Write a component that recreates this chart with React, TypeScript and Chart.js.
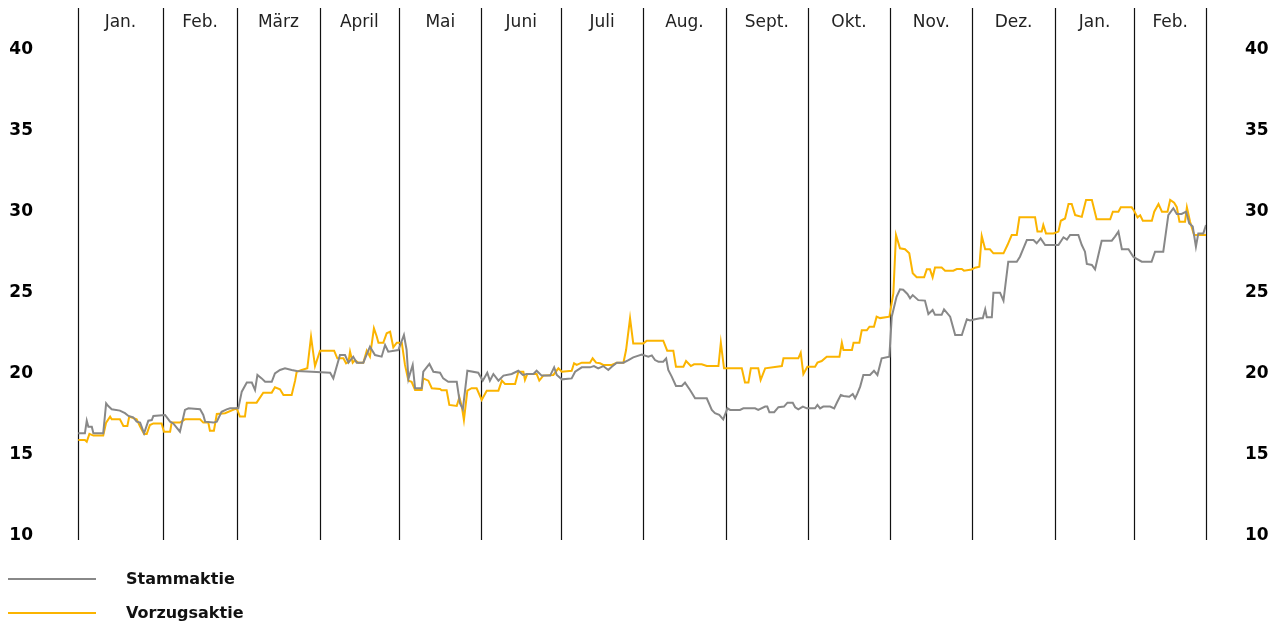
import React, { useEffect, useRef } from "react";
import { Chart, registerables } from "chart.js";

Chart.register(...registerables);

const monthLabels = ["Jan.", "Feb.", "März", "April", "Mai", "Juni", "Juli", "Aug.", "Sept.", "Okt.", "Nov.", "Dez.", "Jan.", "Feb."];
const monthStarts = [0, 32, 60, 91, 121, 152, 182, 213, 244, 275, 306, 337, 368, 398, 425];
const yTicks = [10, 15, 20, 25, 30, 35, 40];
const seriesNames = ["Stammaktie", "Vorzugsaktie"];

const stammDays = [0.1, 2.6, 3.3, 3.9, 5.2, 5.8, 9.5, 10.6, 11.4, 12.7, 15.8, 17.7, 19.0, 20.8, 22.1, 23.4, 24.9, 26.5, 27.8, 28.4, 32.8, 34.7, 35.9, 38.4, 40.3, 41.6, 46.0, 47.2, 47.9, 51.0, 52.3, 54.1, 56.0, 57.3, 60.4, 61.7, 63.6, 65.5, 66.7, 67.6, 69.2, 70.5, 73.0, 74.2, 76.1, 78.0, 80.5, 82.4, 88.1, 95.0, 96.2, 98.7, 100.6, 101.9, 103.7, 105.0, 107.5, 110.0, 111.9, 114.4, 115.7, 116.9, 120.7, 122.8, 123.8, 124.5, 126.1, 127.0, 129.5, 130.1, 132.4, 133.9, 136.4, 137.6, 139.5, 142.7, 143.9, 145.0, 146.7, 150.8, 152.5, 154.2, 155.2, 156.5, 158.4, 160.3, 163.4, 165.9, 167.6, 169.1, 171.6, 172.8, 174.7, 177.9, 179.4, 180.4, 182.3, 186.0, 187.3, 189.8, 192.9, 194.4, 196.0, 197.9, 199.8, 201.1, 203.0, 205.5, 207.4, 209.2, 212.4, 214.9, 216.2, 217.4, 218.7, 220.5, 221.6, 222.4, 223.7, 225.3, 227.5, 228.7, 230.6, 232.5, 236.9, 238.8, 240.0, 241.6, 243.1, 244.7, 245.7, 249.4, 250.7, 255.1, 256.3, 258.9, 259.7, 260.5, 262.3, 263.9, 266.0, 267.3, 269.3, 270.2, 271.4, 273.1, 274.6, 277.7, 278.6, 279.6, 280.8, 283.4, 284.9, 286.1, 287.4, 288.4, 290.6, 291.9, 292.8, 293.6, 294.7, 295.9, 298.4, 299.9, 301.2, 302.8, 305.7, 306.6, 308.4, 309.7, 310.9, 312.5, 313.5, 314.5, 316.6, 319.1, 320.4, 322.0, 322.9, 325.4, 326.3, 328.6, 330.5, 333.0, 334.9, 336.1, 338.0, 339.9, 340.9, 341.8, 342.4, 344.3, 344.9, 347.4, 348.7, 350.5, 353.7, 354.9, 356.2, 357.5, 360.0, 361.2, 362.7, 364.4, 369.4, 371.3, 372.6, 373.8, 376.9, 378.2, 379.4, 380.1, 382.0, 383.2, 385.7, 389.5, 390.7, 392.0, 393.3, 395.8, 397.6, 398.6, 400.8, 404.5, 405.8, 408.9, 410.8, 412.7, 414.0, 415.8, 417.5, 418.7, 420.0, 421.2, 422.1, 424.0, 425.0];
const stammValues = [16.34, 16.34, 17.12, 16.75, 16.75, 16.34, 16.34, 18.19, 18.02, 17.82, 17.74, 17.58, 17.41, 17.33, 17.06, 17.0, 16.34, 17.12, 17.16, 17.41, 17.47, 17.06, 16.95, 16.44, 17.78, 17.88, 17.82, 17.47, 17.06, 17.0, 17.06, 17.67, 17.82, 17.88, 17.88, 18.91, 19.47, 19.47, 19.01, 19.94, 19.73, 19.52, 19.52, 20.04, 20.25, 20.35, 20.25, 20.19, 20.14, 20.08, 19.73, 21.17, 21.17, 20.7, 21.07, 20.7, 20.7, 21.69, 21.17, 21.07, 21.79, 21.38, 21.48, 22.41, 21.5, 19.7, 20.56, 19.12, 19.12, 20.14, 20.62, 20.14, 20.08, 19.73, 19.52, 19.52, 18.19, 17.82, 20.2, 20.08, 19.59, 20.08, 19.59, 20.0, 19.59, 19.9, 20.0, 20.2, 19.94, 20.0, 20.0, 20.2, 19.9, 19.9, 20.41, 19.94, 19.67, 19.73, 20.14, 20.41, 20.41, 20.49, 20.35, 20.49, 20.25, 20.45, 20.7, 20.7, 20.86, 21.03, 21.2, 21.07, 21.15, 20.86, 20.76, 20.76, 20.96, 20.25, 19.84, 19.26, 19.26, 19.47, 19.01, 18.5, 18.5, 17.78, 17.58, 17.48, 17.2, 17.88, 17.78, 17.78, 17.88, 17.88, 17.78, 17.99, 17.99, 17.64, 17.64, 17.95, 17.99, 18.23, 18.23, 17.95, 17.82, 17.99, 17.88, 17.88, 18.09, 17.88, 17.99, 17.99, 17.88, 18.29, 18.7, 18.64, 18.6, 18.77, 18.5, 18.77, 19.22, 19.94, 19.94, 20.2, 19.94, 20.97, 21.07, 23.54, 24.77, 25.23, 25.2, 24.94, 24.67, 24.87, 24.56, 24.53, 23.7, 23.95, 23.65, 23.65, 23.99, 23.54, 22.41, 22.41, 23.38, 23.31, 23.38, 23.44, 23.44, 23.99, 23.5, 23.5, 25.02, 25.02, 24.53, 26.93, 26.93, 27.24, 27.76, 28.27, 28.27, 28.07, 28.37, 27.96, 27.96, 28.44, 28.3, 28.58, 28.58, 27.96, 27.55, 26.79, 26.73, 26.46, 28.23, 28.23, 28.48, 28.79, 27.7, 27.7, 27.24, 27.14, 26.93, 26.93, 27.55, 27.55, 29.81, 30.23, 29.88, 29.88, 30.02, 29.3, 29.1, 27.86, 28.68, 28.68, 29.2];

const vorzugDays = [0.1, 2.6, 3.3, 4.3, 5.8, 9.5, 10.6, 12.1, 12.7, 15.8, 17.1, 18.6, 19.3, 22.1, 23.4, 24.9, 25.9, 27.1, 28.4, 31.5, 32.4, 34.7, 35.3, 38.4, 40.3, 46.0, 47.2, 49.1, 49.7, 51.2, 52.3, 55.4, 59.8, 61.0, 62.9, 63.6, 67.3, 69.8, 73.0, 74.2, 76.1, 77.4, 80.5, 81.8, 82.4, 84.3, 86.4, 87.8, 89.3, 91.2, 96.5, 97.7, 100.0, 101.0, 101.9, 102.5, 103.5, 104.4, 105.6, 107.5, 108.8, 110.0, 111.5, 112.5, 113.2, 115.0, 116.3, 117.6, 118.8, 120.1, 122.0, 123.2, 124.5, 125.7, 127.0, 129.5, 130.1, 132.0, 133.3, 136.4, 137.0, 138.9, 139.9, 142.7, 143.7, 144.6, 145.4, 146.7, 148.3, 150.2, 152.1, 154.0, 158.4, 159.7, 160.9, 164.7, 165.9, 167.8, 168.4, 169.3, 172.8, 173.8, 175.3, 179.1, 181.0, 182.3, 186.0, 186.9, 187.9, 189.8, 192.9, 193.9, 195.2, 196.7, 197.9, 201.1, 203.0, 205.5, 206.5, 208.0, 209.2, 213.0, 214.3, 220.5, 222.0, 224.3, 225.3, 228.1, 229.1, 230.9, 232.1, 235.0, 236.9, 241.3, 242.2, 243.4, 250.1, 251.3, 252.6, 253.5, 256.3, 257.2, 258.9, 265.2, 265.8, 271.4, 272.3, 273.3, 274.8, 277.7, 278.6, 280.2, 282.1, 286.9, 287.8, 288.4, 291.6, 292.2, 294.4, 295.3, 297.2, 298.2, 299.9, 300.9, 302.2, 305.7, 307.2, 308.2, 309.7, 311.6, 313.2, 314.5, 316.0, 318.8, 319.8, 321.0, 322.0, 322.9, 325.4, 326.7, 329.8, 331.1, 333.0, 333.8, 336.7, 338.0, 339.6, 340.5, 341.8, 343.6, 344.9, 348.7, 350.2, 351.8, 353.7, 354.7, 360.6, 361.5, 363.1, 363.7, 364.7, 367.5, 369.4, 370.3, 371.9, 373.2, 374.4, 375.7, 378.2, 379.8, 382.0, 383.8, 388.9, 389.9, 392.0, 392.9, 397.0, 397.9, 399.2, 400.2, 401.2, 404.6, 405.5, 407.1, 408.4, 410.5, 411.5, 413.0, 414.0, 415.0, 417.1, 417.8, 419.0, 420.5, 425.0];
const vorzugValues = [15.93, 15.93, 15.82, 16.3, 16.2, 16.2, 17.0, 17.37, 17.2, 17.2, 16.79, 16.79, 17.37, 17.2, 16.75, 16.3, 16.3, 16.85, 16.95, 16.95, 16.44, 16.44, 17.0, 17.0, 17.2, 17.2, 17.0, 17.0, 16.5, 16.5, 17.53, 17.58, 17.88, 17.37, 17.37, 18.23, 18.23, 18.85, 18.85, 19.18, 19.06, 18.7, 18.7, 19.59, 20.14, 20.25, 20.35, 22.3, 20.49, 21.44, 21.44, 20.97, 20.97, 20.66, 20.75, 21.38, 20.7, 20.86, 20.7, 20.7, 21.44, 21.07, 22.82, 22.35, 21.93, 21.93, 22.51, 22.61, 21.65, 21.93, 21.93, 20.56, 19.59, 19.52, 19.01, 19.01, 19.73, 19.59, 19.12, 19.07, 18.99, 18.99, 18.09, 18.03, 18.56, 18.0, 17.16, 18.97, 19.12, 19.12, 18.4, 18.97, 18.97, 19.59, 19.38, 19.38, 20.14, 20.14, 19.63, 20.0, 20.0, 19.59, 19.9, 19.94, 20.35, 20.14, 20.2, 20.66, 20.56, 20.7, 20.7, 20.97, 20.7, 20.66, 20.56, 20.56, 20.7, 20.7, 21.48, 23.44, 21.89, 21.89, 22.06, 22.06, 21.44, 21.44, 20.45, 20.45, 20.8, 20.49, 20.6, 20.6, 20.49, 20.49, 21.93, 20.35, 20.35, 19.47, 19.47, 20.35, 20.35, 19.63, 20.35, 20.49, 20.97, 20.97, 21.31, 20.0, 20.45, 20.45, 20.7, 20.8, 21.07, 21.07, 21.93, 21.48, 21.48, 21.93, 21.93, 22.7, 22.7, 22.92, 22.92, 23.54, 23.45, 23.54, 24.98, 28.58, 27.76, 27.7, 27.45, 26.22, 25.97, 25.97, 26.46, 26.46, 25.97, 26.58, 26.58, 26.38, 26.38, 26.48, 26.48, 26.38, 26.45, 26.56, 26.62, 28.52, 27.7, 27.7, 27.45, 27.45, 27.96, 28.58, 28.58, 29.67, 29.67, 28.79, 28.79, 29.2, 28.68, 28.68, 28.79, 29.46, 29.6, 30.49, 30.49, 29.81, 29.7, 30.74, 30.74, 29.55, 29.55, 30.02, 30.02, 30.29, 30.29, 30.08, 29.67, 29.8, 29.46, 29.46, 30.02, 30.49, 30.02, 30.02, 30.74, 30.57, 30.3, 29.4, 29.4, 30.29, 29.4, 28.58, 28.58];

const GRAY = "#888888";
const ORANGE = "#fbb400";
const seriesColors = [GRAY, ORANGE];

const toPoints = (xs: number[], ys: number[]) => xs.map((x, i) => ({ x, y: ys[i] }));

export default function App() {
  const canvasRef = useRef<HTMLCanvasElement>(null);

  useEffect(() => {
    document.body.style.margin = "0";
    const canvas = canvasRef.current;
    if (!canvas) return;

    const monthPlugin = {
      id: "monthGrid",
      beforeDatasetsDraw(chart: any) {
        const { ctx, chartArea, scales } = chart;
        const xs = scales.x;
        ctx.save();
        ctx.strokeStyle = "#111";
        ctx.lineWidth = 1.2;
        monthStarts.forEach((d) => {
          const px = Math.round(xs.getPixelForValue(d)) + 0.5;
          ctx.beginPath();
          ctx.moveTo(px, chartArea.top - 42);
          ctx.lineTo(px, chartArea.bottom + 4);
          ctx.stroke();
        });
        ctx.fillStyle = "#222";
        ctx.font = '17px "DejaVu Sans"';
        ctx.textAlign = "center";
        ctx.textBaseline = "middle";
        monthLabels.forEach((m, i) => {
          const a = xs.getPixelForValue(monthStarts[i]);
          const b = xs.getPixelForValue(monthStarts[i + 1]);
          ctx.fillText(m, (a + b) / 2, chartArea.top - 27);
        });
        ctx.restore();
      },
    };

    const tickFont = { family: '"DejaVu Sans", sans-serif', size: 17, weight: "bold" as const };
    const setTicks = (s: any) => {
      s.ticks = yTicks.map((v) => ({ value: v }));
    };
    const fitWidth = (w: number) => (s: any) => {
      s.width = w;
      s.paddingTop = 0;
      s.paddingBottom = 0;
    };

    const chart = new Chart(canvas, {
      type: "line",
      data: {
        datasets: [
          {
            label: seriesNames[0],
            data: toPoints(stammDays, stammValues),
            borderColor: GRAY,
            backgroundColor: GRAY,
            borderWidth: 2,
            pointRadius: 0,
            tension: 0,
            yAxisID: "y",
          },
          {
            label: seriesNames[1],
            data: toPoints(vorzugDays, vorzugValues),
            borderColor: ORANGE,
            backgroundColor: ORANGE,
            borderWidth: 2,
            pointRadius: 0,
            tension: 0,
            yAxisID: "y",
          },
        ],
      },
      options: {
        animation: false,
        responsive: false,
        devicePixelRatio: 1,
        layout: { padding: { top: 50, bottom: 92, left: 0, right: 0 } },
        plugins: { legend: { display: false }, tooltip: { enabled: false } },
        events: [],
        scales: {
          x: { type: "linear", min: 0, max: 425, display: false },
          y: {
            type: "linear",
            position: "left",
            min: 10,
            max: 40,
            afterBuildTicks: setTicks,
            afterFit: fitWidth(78),
            grid: { display: false, drawTicks: false },
            border: { display: false },
            ticks: { font: tickFont, color: "#000", padding: 45 },
          },
          y2: {
            type: "linear",
            position: "right",
            min: 10,
            max: 40,
            afterBuildTicks: setTicks,
            afterFit: fitWidth(74),
            grid: { display: false, drawTicks: false },
            border: { display: false },
            ticks: { font: tickFont, color: "#000", padding: 39 },
          },
        },
      },
      plugins: [monthPlugin],
    });
    return () => chart.destroy();
  }, []);

  const legendText: React.CSSProperties = {
    position: "absolute",
    left: 126,
    fontFamily: '"DejaVu Sans", sans-serif',
    fontWeight: "bold",
    fontSize: 16,
    lineHeight: "20px",
    color: "#111",
    whiteSpace: "nowrap",
  };
  const legendTops = [579, 613];

  return (
    <div style={{ position: "absolute", left: 0, top: 0, width: 1280, height: 628, background: "#fff" }}>
      <canvas ref={canvasRef} width={1280} height={628} style={{ display: "block" }} />
      {seriesNames.map((name, i) => (
        <React.Fragment key={name}>
          <div
            style={{
              position: "absolute",
              left: 8,
              top: legendTops[i] - 1,
              width: 88,
              height: 1.5,
              background: seriesColors[i],
            }}
          />
          <div style={{ ...legendText, top: legendTops[i] - 10 }}>{name}</div>
        </React.Fragment>
      ))}
    </div>
  );
}
